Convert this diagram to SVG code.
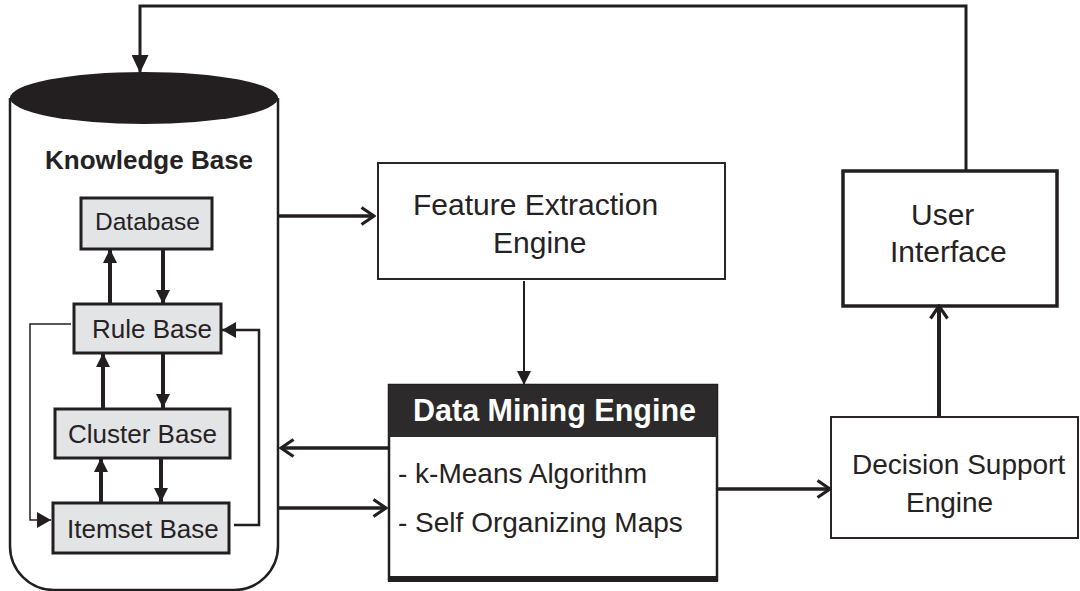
<svg xmlns="http://www.w3.org/2000/svg" width="1080" height="591" viewBox="0 0 1080 591">
  <style>
    text { font-family: "Liberation Sans", Arial, Helvetica, sans-serif; fill: #262223; }
    .bold { font-weight: bold; }
    .big { font-size: 30px; }
    .mid { font-size: 28px; }
    .inner { font-size: 26px; }
    .box { fill: #ffffff; stroke: #2a2627; stroke-width: 2; }
    .store { fill: #e3e4e6; stroke: #231f20; stroke-width: 3; }
    .link { fill: none; stroke: #231f20; stroke-linejoin: miter; }
  </style>
  <defs>
    <marker id="open" markerUnits="userSpaceOnUse" viewBox="0 0 16 20" refX="14" refY="10" markerWidth="16" markerHeight="20" orient="auto">
      <path d="M1.5,1.5 L14,10 L1.5,18.5" fill="none" stroke="#231f20" stroke-width="3.2"/>
    </marker>
    <marker id="tri" markerUnits="userSpaceOnUse" viewBox="0 0 14 14" refX="14" refY="7" markerWidth="14" markerHeight="14" orient="auto">
      <path d="M0,0 L14,7 L0,14 Z" fill="#231f20"/>
    </marker>
    <marker id="triLong" markerUnits="userSpaceOnUse" viewBox="0 0 18 17" refX="18" refY="8.5" markerWidth="18" markerHeight="17" orient="auto">
      <path d="M0,0 L18,8.5 L0,17 Z" fill="#231f20"/>
    </marker>
    <marker id="triWide" markerUnits="userSpaceOnUse" viewBox="0 0 14 16" refX="14" refY="8" markerWidth="14" markerHeight="16" orient="auto">
      <path d="M0,0 L14,8 L0,16 Z" fill="#231f20"/>
    </marker>
  </defs>

  <!-- Knowledge base cylinder with its internal stores -->
  <g id="knowledge-base">
    <path d="M10,98 V546 A44,44 0 0 0 54,590 H234 A44,44 0 0 0 278,546 V98" fill="#ffffff" stroke="#231f20" stroke-width="2.5"/>
    <ellipse cx="144" cy="98" rx="134" ry="26" fill="#231f20"/>
    <text class="bold" x="45" y="169" font-size="26">Knowledge Base</text>
  </g>

  <g id="database">
    <rect class="store" x="81" y="198" width="131" height="51"/>
    <text x="95" y="230" font-size="24.5">Database</text>
  </g>
  <g id="rule-base">
    <rect class="store" x="74" y="304" width="147" height="49"/>
    <text class="inner" x="92" y="338">Rule Base</text>
  </g>
  <g id="cluster-base">
    <rect class="store" x="55" y="409" width="175" height="49"/>
    <text class="inner" x="68" y="443">Cluster Base</text>
  </g>
  <g id="itemset-base">
    <rect class="store" x="53" y="503" width="176" height="50"/>
    <text class="inner" x="67" y="538">Itemset Base</text>
  </g>

  <!-- Engines and interface -->
  <g id="feature-extraction">
    <rect class="box" x="378" y="163" width="347" height="116"/>
    <text class="big" x="413" y="215">Feature Extraction</text>
    <text class="big" x="493" y="253">Engine</text>
  </g>

  <g id="data-mining">
    <rect x="389" y="385" width="328" height="195" fill="#ffffff" stroke="#231f20" stroke-width="2.5"/>
    <rect x="389" y="385" width="328" height="52" fill="#2d2a2b"/>
    <line x1="388" y1="579" x2="718" y2="579" stroke="#231f20" stroke-width="6"/>
    <text class="bold" x="413" y="421" font-size="30.5" style="fill:#ffffff">Data Mining Engine</text>
    <text class="mid" x="398" y="483">- k-Means Algorithm</text>
    <text class="mid" x="398" y="532">- Self Organizing Maps</text>
  </g>

  <g id="decision-support">
    <rect class="box" x="831" y="417" width="247" height="121"/>
    <text class="mid" x="852" y="474">Decision Support</text>
    <text class="mid" x="906" y="512">Engine</text>
  </g>

  <g id="user-interface">
    <rect x="843" y="171" width="214" height="135" fill="#ffffff" stroke="#231f20" stroke-width="3.5"/>
    <text class="big" x="911" y="225">User</text>
    <text class="big" x="890" y="262">Interface</text>
  </g>

  <!-- Connectors -->
  <g id="connectors" class="link">
    <!-- feedback loop from the user interface back to the knowledge base -->
    <path class="link" d="M966,171 V6 H140 V73" stroke-width="3" marker-end="url(#triLong)"/>

    <!-- main flow -->
    <path class="link" d="M278,216 H374" stroke-width="3.5" marker-end="url(#open)"/>
    <path class="link" d="M524,281 V385" stroke-width="2" marker-end="url(#tri)"/>
    <path class="link" d="M389,448 H281" stroke-width="3.5" marker-end="url(#open)"/>
    <path class="link" d="M278,508 H386" stroke-width="3.5" marker-end="url(#open)"/>
    <path class="link" d="M718,489 H830" stroke-width="3.5" marker-end="url(#open)"/>
    <path class="link" d="M939,417 V306" stroke-width="4" marker-end="url(#open)"/>

    <!-- links between the stores -->
    <path class="link" d="M110,304 V249" stroke-width="4" marker-end="url(#tri)"/>
    <path class="link" d="M163,249 V304" stroke-width="4" marker-end="url(#tri)"/>
    <path class="link" d="M103,409 V353" stroke-width="4" marker-end="url(#tri)"/>
    <path class="link" d="M163,353 V408" stroke-width="4" marker-end="url(#tri)"/>
    <path class="link" d="M101,503 V458" stroke-width="4" marker-end="url(#tri)"/>
    <path class="link" d="M161,458 V502" stroke-width="4" marker-end="url(#tri)"/>

    <path class="link" d="M71,324 H30 V520 H51" stroke-width="1.5" marker-end="url(#triWide)"/>
    <path class="link" d="M234,525 H259 V330 H222" stroke-width="2.5" marker-end="url(#triWide)"/>
  </g>
</svg>
